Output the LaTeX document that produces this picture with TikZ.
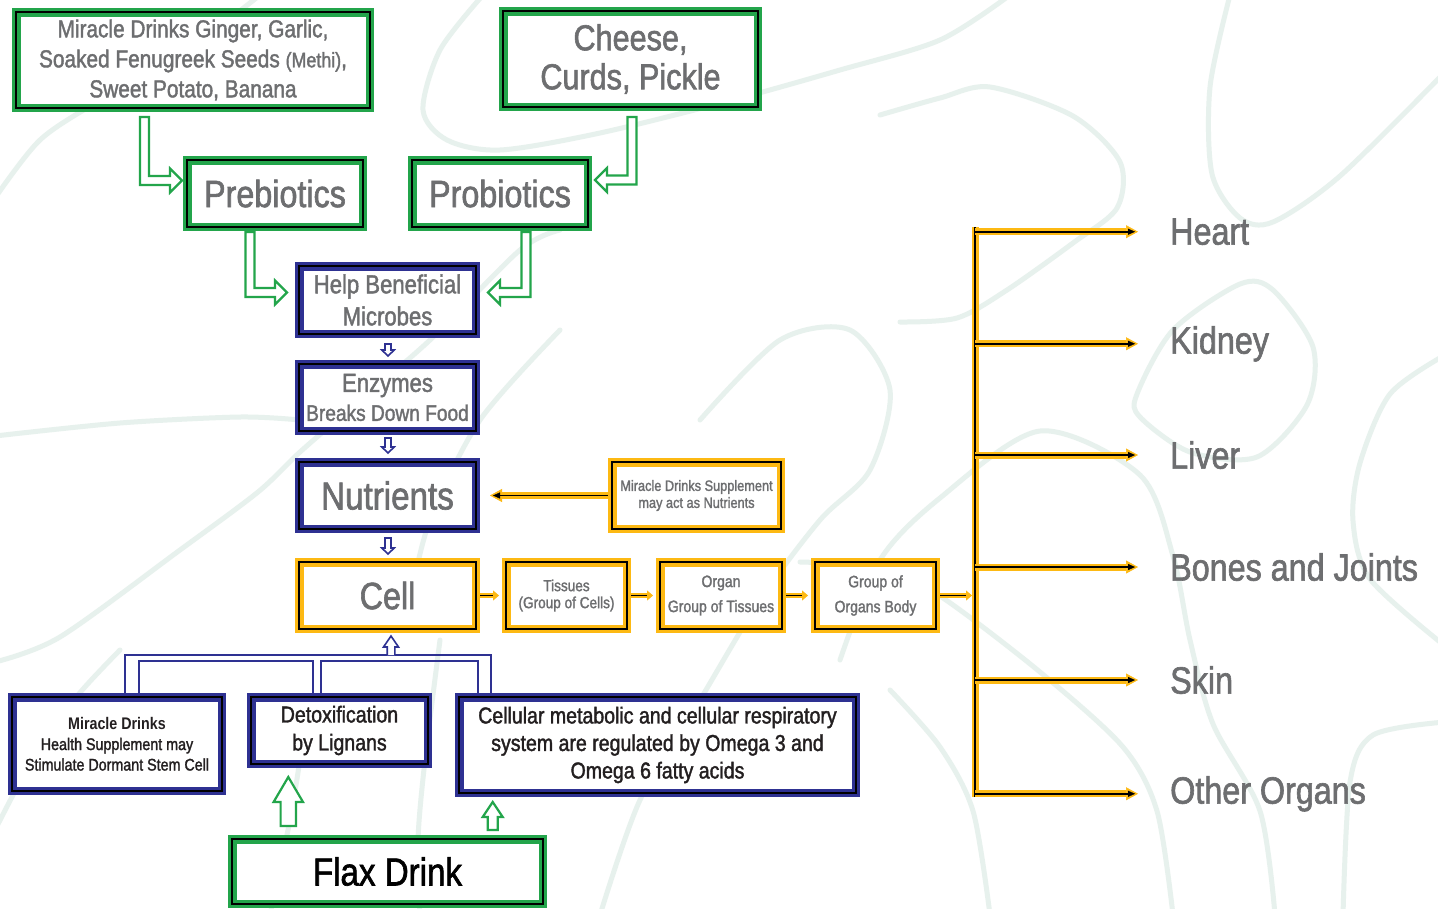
\documentclass[tikz,border=0pt]{standalone}
\usepackage{fontspec}
\setmainfont{Liberation Sans}[FakeStretch=0.85, UprightFeatures={FakeBold=1.6}]
\usetikzlibrary{arrows.meta,calc}
\definecolor{gbox}{RGB}{35,165,75}
\definecolor{bbox}{RGB}{46,49,146}
\definecolor{ybox}{RGB}{253,185,19}
\definecolor{gtxt}{RGB}{109,110,112}
\definecolor{dtxt}{RGB}{35,31,32}
\definecolor{bgc}{RGB}{231,241,237}
\tikzset{
  bx/.style={line width=8.5pt, outer sep=4.25pt, inner sep=0pt, fill=white, align=center,
    postaction={draw=black, line width=1.6pt}},
  gbx/.style={bx, draw=gbox, text=gtxt},
  bbx/.style={bx, draw=bbox, text=gtxt},
  ybx/.style={bx, draw=ybox, text=gtxt},
  lbl/.style={inner sep=0pt, text=gtxt, font=\fontsize{38}{40}\selectfont},
  garr/.style={draw=gbox, line width=2.2pt, fill=white, line join=miter},
  barr/.style={draw=bbox, line width=1.6pt, fill=white, line join=miter},
  bline/.style={draw=bbox, line width=2pt},
  ycon/.style={draw=ybox, line width=7pt, postaction={draw=black, line width=1.8pt}},
  yarr/.style={draw=ybox, line width=7pt, -{Triangle[length=12pt,width=13pt,line width=0.5pt]},
    postaction={draw=black, line width=1.8pt, -{Triangle[length=7pt,width=6pt,line width=0.3pt]}, shorten >=3pt}},
  ysm/.style={draw=ybox, line width=4.5pt, -{Triangle[length=6pt,width=10pt,line width=0.3pt]}, shorten >=3pt,
    postaction={draw=black, line width=1.5pt, -, shorten >=9pt}},
  bgl/.style={draw=bgc, line width=5pt, line cap=round}
}
\newcommand\elbR[2]{\path[garr] let \p1=(#1), \p2=(#2) in
  (\x1-4.5pt,\y1) -- (\x1-4.5pt,\y2-4.5pt) -- (\x2-12pt,\y2-4.5pt) -- (\x2-12pt,\y2-12pt) --
  (\x2,\y2) -- (\x2-12pt,\y2+12pt) -- (\x2-12pt,\y2+4.5pt) -- (\x1+4.5pt,\y2+4.5pt) -- (\x1+4.5pt,\y1) -- cycle;}
\newcommand\elbL[2]{\path[garr] let \p1=(#1), \p2=(#2) in
  (\x1+4.5pt,\y1) -- (\x1+4.5pt,\y2-4.5pt) -- (\x2+12pt,\y2-4.5pt) -- (\x2+12pt,\y2-12pt) --
  (\x2,\y2) -- (\x2+12pt,\y2+12pt) -- (\x2+12pt,\y2+4.5pt) -- (\x1-4.5pt,\y2+4.5pt) -- (\x1-4.5pt,\y1) -- cycle;}
\newcommand\vdown[6]{\path[#1] let \p1=(#2), \p2=(#3) in
  (\x1-#4,\y1) -- (\x1-#4,\y2+#6) -- (\x1-#5,\y2+#6) -- (\x1,\y2) -- (\x1+#5,\y2+#6) -- (\x1+#4,\y2+#6) -- (\x1+#4,\y1) -- cycle;}
\newcommand\vup[6]{\path[#1] let \p1=(#2), \p2=(#3) in
  (\x1-#4,\y1) -- (\x1-#4,\y2-#6) -- (\x1-#5,\y2-#6) -- (\x1,\y2) -- (\x1+#5,\y2-#6) -- (\x1+#4,\y2-#6) -- (\x1+#4,\y1) -- cycle;}
\newcommand\vupopen[6]{\path[#1] let \p1=(#2), \p2=(#3) in
  (\x1-#4,\y1) -- (\x1-#4,\y2-#6) -- (\x1-#5,\y2-#6) -- (\x1,\y2) -- (\x1+#5,\y2-#6) -- (\x1+#4,\y2-#6) -- (\x1+#4,\y1);}
\begin{document}
\begin{tikzpicture}[x=1pt,y=-1pt]
\useasboundingbox[fill=white] (0,0) rectangle (1438,908);
% background decoration
\begin{scope}
\clip (0,0) rectangle (1438,908);
\draw[bgl] plot[smooth] coordinates {(1230,-5) (1210,87) (1212,174) (1240,218) (1273,222) (1340,176) (1445,72)};
\draw[bgl] plot[smooth] coordinates {(880,115) (940,98) (990,87) (1073,116) (1120,162) (1117,208) (1073,243) (1007,290) (957,318) (900,322)};
\draw[bgl] plot[smooth cycle] coordinates {(1137,394) (1173,330) (1240,284) (1273,290) (1313,347) (1307,405) (1257,457) (1190,452) (1140,417)};
\draw[bgl] plot[smooth] coordinates {(1445,355) (1390,394) (1360,463) (1353,521) (1370,579) (1445,646)};
\draw[bgl] plot[smooth] coordinates {(1445,722) (1373,735) (1350,782) (1343,915)};
\draw[bgl] plot[smooth] coordinates {(840,660) (880,560) (940,498) (1040,431) (1140,475) (1173,556) (1190,640) (1213,724) (1260,811) (1275,915)};
\draw[bgl] plot[smooth] coordinates {(800,562) (880,568) (940,596) (1040,672) (1123,747) (1157,811) (1173,915)};
\draw[bgl] plot[smooth] coordinates {(890,690) (940,747) (973,811) (990,915)};
\draw[bgl] plot[smooth] coordinates {(483,-5) (440,50) (423,110) (447,140) (500,150) (600,133) (733,100) (840,70) (940,40) (1010,-5)};
\draw[bgl] plot[smooth] coordinates {(-5,198) (40,140) (100,100) (200,40) (260,-5)};
\draw[bgl] plot[smooth] coordinates {(-5,436) (120,423) (240,417) (300,420)};
\draw[bgl] plot[smooth] coordinates {(-5,662) (60,637) (180,550) (258,492) (300,452) (360,400) (430,340) (520,250) (560,230)};
\draw[bgl] plot[smooth] coordinates {(-5,830) (36,753) (78,695) (120,650)};
\draw[bgl] plot[smooth] coordinates {(310,700) (300,760) (290,820) (270,915)};
\draw[bgl] plot[smooth] coordinates {(440,640) (425,760) (418,840) (420,915)};
\draw[bgl] plot[smooth] coordinates {(560,330) (480,420) (430,520) (410,600)};
\draw[bgl] plot[smooth] coordinates {(700,420) (780,340) (850,330) (890,390) (870,470) (820,520) (760,600) (700,700) (640,800) (600,915)};
\end{scope}

% boxes
\node[gbx, minimum width=353.5pt, minimum height=95.5pt, font=\fontsize{24.5}{30}\selectfont] (mir) at (193,60)
  {Miracle Drinks Ginger, Garlic,\\Soaked Fenugreek Seeds {\fontsize{21}{30}\selectfont(Methi)},\\Sweet Potato, Banana};
\node[gbx, minimum width=254.5pt, minimum height=95.5pt, font=\fontsize{36}{39}\selectfont] (chz) at (630.5,59)
  {Cheese,\\Curds, Pickle};
\node[gbx, minimum width=175.5pt, minimum height=66.5pt, font=\fontsize{38}{40}\selectfont] (pre) at (275,193.5) {Prebiotics};
\node[gbx, minimum width=175.5pt, minimum height=66.5pt, font=\fontsize{38}{40}\selectfont] (pro) at (500,193.5) {Probiotics};
\node[bbx, minimum width=176.5pt, minimum height=67.5pt, font=\fontsize{26}{32}\selectfont] (help) at (387.5,300)
  {Help Beneficial\\Microbes};
\node[bbx, minimum width=176.5pt, minimum height=66.5pt, font=\fontsize{22.5}{29}\selectfont] (enz) at (387.5,397.5)
  {{\fontsize{26}{29}\selectfont Enzymes}\\Breaks Down Food};
\node[bbx, minimum width=176.5pt, minimum height=66.5pt, font=\fontsize{39}{40}\selectfont] (nut) at (387.5,495.5) {Nutrients};
\node[ybx, minimum width=168.5pt, minimum height=66.5pt, font=\fontsize{15}{17}\selectfont] (sup) at (696.5,495.5)
  {Miracle Drinks Supplement\\may act as Nutrients};
\node[ybx, minimum width=176.5pt, minimum height=66.5pt, font=\fontsize{38}{40}\selectfont] (cell) at (387.5,595.5) {Cell};
\node[ybx, minimum width=120.5pt, minimum height=66.5pt, font=\fontsize{16}{17}\selectfont] (tis) at (566.5,595.5)
  {Tissues\\(Group of Cells)};
\node[ybx, minimum width=121.5pt, minimum height=66.5pt, font=\fontsize{16.5}{25}\selectfont] (org) at (721,595.5)
  {Organ\\Group of Tissues};
\node[ybx, minimum width=120.5pt, minimum height=66.5pt, font=\fontsize{16.5}{25}\selectfont] (grp) at (875.5,595.5)
  {Group of\\Organs Body};
\node[bbx, text=dtxt, minimum width=209.5pt, minimum height=93.5pt, font=\fontsize{16.8}{20.5}\selectfont] (mds) at (117,744)
  {\textbf{Miracle Drinks}\\Health Supplement may\\Stimulate Dormant Stem Cell};
\node[bbx, text=dtxt, minimum width=176.5pt, minimum height=66.5pt, font=\fontsize{23}{28}\selectfont] (det) at (339.5,730.5)
  {Detoxification\\by Lignans};
\node[bbx, text=dtxt, minimum width=396.5pt, minimum height=95.5pt, font=\fontsize{23}{27.5}\selectfont] (cel) at (657.5,745)
  {Cellular metabolic and cellular respiratory\\system are regulated by Omega 3 and\\Omega 6 fatty acids};
\node[gbx, text=black, minimum width=310.5pt, minimum height=64.5pt, font=\fontsize{39}{40}\selectfont] (flax) at (387.5,871.5) {Flax Drink};

% organ labels
\node[lbl, anchor=base west] (heart) at (1170,244.6) {Heart};
\node[lbl, anchor=base west] (kidney) at (1170,353.6) {Kidney};
\node[lbl, anchor=base west] (liver) at (1170,468.6) {Liver};
\node[lbl, anchor=base west] (bones) at (1170,580.6) {Bones and Joints};
\node[lbl, anchor=base west] (skin) at (1170,693.6) {Skin};
\node[lbl, anchor=base west] (other) at (1170,803.6) {Other Organs};

% green elbow arrows
\coordinate (aS) at ($(mir.south west)+(132.5,5)$);
\coordinate (aT) at ($(pre.west)+(-1,-13)$);
\coordinate (bS) at ($(chz.south)+(1.5,6)$);
\coordinate (bT) at ($(pro.east)+(3,-13.5)$);
\coordinate (cS) at ($(pre.south)+(-25,1)$);
\coordinate (cT) at ($(help.west)+(-8,-7.5)$);
\coordinate (dS) at ($(pro.south)+(26,1)$);
\coordinate (dT) at ($(help.east)+(8,-7.5)$);
\elbR{aS}{aT}
\elbL{bS}{bT}
\elbR{cS}{cT}
\elbL{dS}{dT}

% blue down arrows
\coordinate (e1S) at ($(help.south)+(0.5,6)$);
\coordinate (e1T) at ($(enz.north)+(0.5,-4)$);
\coordinate (e2S) at ($(enz.south)+(0.5,3)$);
\coordinate (e2T) at ($(nut.north)+(0.5,-5)$);
\coordinate (e3S) at ($(nut.south)+(0.5,5)$);
\coordinate (e3T) at ($(cell.north)+(0.5,-4)$);
\vdown{barr}{e1S}{e1T}{3pt}{6.2pt}{6pt}
\vdown{barr}{e2S}{e2T}{3pt}{6.2pt}{6pt}
\vdown{barr}{e3S}{e3T}{3pt}{6.2pt}{6pt}

% blue bracket
\draw[bline] ($(mds.north west)+(117,0)$) -- ++(0,-38) -| ($(cel.north west)+(36,0)$);
\draw[bline] ($(mds.north west)+(131,0)$) -- ++(0,-32) -| ($(det.north west)+(66,0)$);
\draw[bline] ($(det.north west)+(74,0)$) -- ++(0,-32) -| ($(cel.north west)+(23,0)$);
\coordinate (uT) at ($(cell.south)+(3.5,3)$);
\coordinate (uS) at ($(mds.north west)+(383,-38)$);
\vupopen{barr}{uS}{uT}{3.8pt}{7.5pt}{11pt}

% green up arrows from flax
\coordinate (f1T) at ($(det.south west)+(41.3,9)$);
\coordinate (f1S) at ($(flax.north west)+(60.3,-9)$);
\coordinate (f2T) at ($(cel.south west)+(37.7,5)$);
\coordinate (f2S) at ($(flax.north west)+(264.7,-5)$);
\vup{garr}{f1S}{f1T}{7.7pt}{14.7pt}{25pt}
\vup{garr}{f2S}{f2T}{5pt}{10pt}{15pt}

% yellow connectors
\draw[yarr] (sup.west) -- ($(nut.east)+(10,0)$);
\draw[ysm] (cell.east) -- (tis.west);
\draw[ysm] (tis.east) -- (org.west);
\draw[ysm] (org.east) -- (grp.west);
\coordinate (tt) at (975,227);
\coordinate (tb) at (975,797);
\draw[ycon] (tt) -- (tb);
\draw[ysm] (grp.east) -- (tt |- grp.east);
\draw[yarr] (tt |- heart.west) -- ([xshift=-32pt]heart.west);
\draw[yarr] (tt |- kidney.west) -- ([xshift=-32pt]kidney.west);
\draw[yarr] (tt |- liver.west) -- ([xshift=-32pt]liver.west);
\draw[yarr] (tt |- bones.west) -- ([xshift=-32pt]bones.west);
\draw[yarr] (tt |- skin.west) -- ([xshift=-32pt]skin.west);
\draw[yarr] (tt |- other.west) -- ([xshift=-32pt]other.west);
\end{tikzpicture}
\end{document}
